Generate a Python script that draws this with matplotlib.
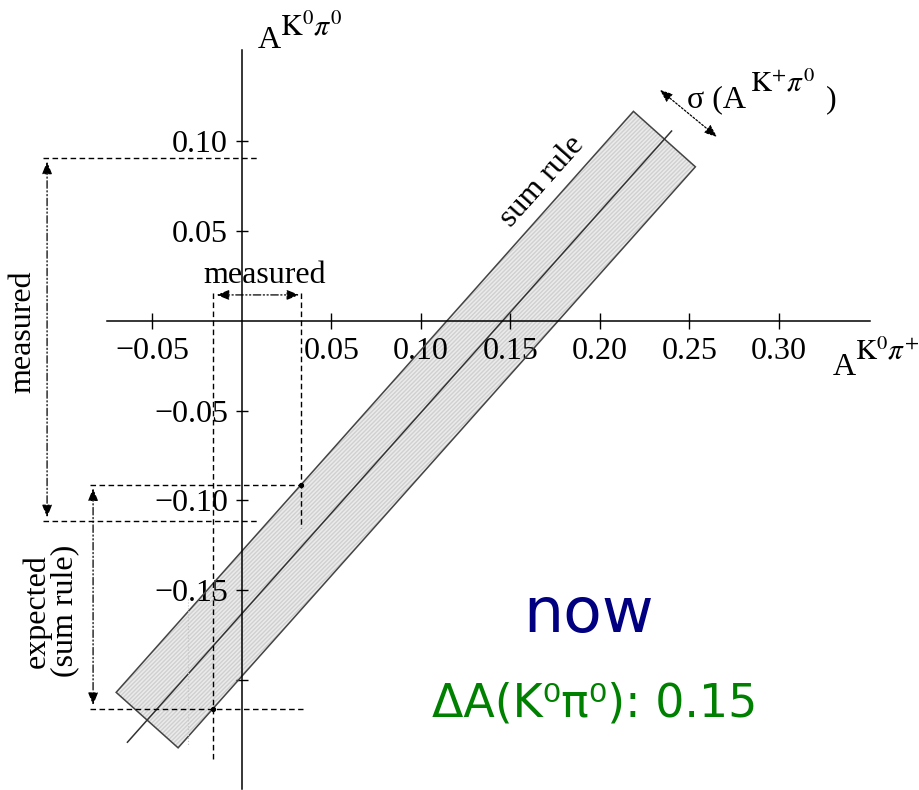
import numpy as np
import matplotlib
matplotlib.use("Agg")
import matplotlib.pyplot as plt
from matplotlib.patches import Polygon, FancyArrowPatch

plt.rcParams["font.family"] = ["Liberation Serif", "DejaVu Serif"]
plt.rcParams["mathtext.fontset"] = "stix"

# axis ticks
x_ticks = [-0.05, 0.05, 0.10, 0.15, 0.20, 0.25, 0.30]
x_tick_labels = ["\u22120.05", "0.05", "0.10", "0.15", "0.20", "0.25", "0.30"]
y_ticks = [-0.20, -0.15, -0.10, -0.05, 0.05, 0.10]
y_tick_labels = ["", "\u22120.15", "\u22120.10", "\u22120.05", "0.05", "0.10"]

# sum-rule band: A(K0pi0) = slope * A(K0pi+) + intercept, +- half width
sum_rule_slope = 1.12
sum_rule_intercept = -0.163
band_half_width = 0.0232
band_x_ends = [-0.053, 0.236]      # centre-line x at the two ends of the band
line_x_ends = [-0.064, 0.240]      # extent of the central line

# measured ranges
meas_k0pip = [-0.0162, 0.033]      # A(K0 pi+)
meas_k0pi0 = [-0.1114, 0.0908]     # A(K0 pi0)

now_label = "now"
delta_label = "\u0394A(K\u2070\u03c0\u2070): 0.15"

x_lim = (-0.1352, 0.3788)
y_lim = (-0.2613, 0.1788)

fig = plt.figure(figsize=(9.2, 7.9), dpi=100)
ax = fig.add_axes([0, 0, 1, 1])
ax.set_xlim(*x_lim)
ax.set_ylim(*y_lim)

# axes crossing at the origin
for side in ("top", "right"):
    ax.spines[side].set_visible(False)
ax.spines["left"].set_position(("data", 0))
ax.spines["bottom"].set_position(("data", 0))
ax.spines["bottom"].set_bounds(-0.0754, 0.351)
ax.spines["left"].set_bounds(-0.261, 0.151)
for s in ("left", "bottom"):
    ax.spines[s].set_linewidth(1.1)
    ax.spines[s].set_zorder(4)

ax.set_xticks(x_ticks, x_tick_labels)
ax.set_yticks(y_ticks, y_tick_labels)
ax.tick_params(axis="x", direction="inout", length=11, width=1.0, pad=6, labelsize=23)
ax.tick_params(axis="y", direction="inout", length=8, width=1.0, pad=6, labelsize=23)

# band geometry
d = np.array([1.0, sum_rule_slope]) / np.hypot(1.0, sum_rule_slope)
n = np.array([-d[1], d[0]])
c0 = np.array([band_x_ends[0], sum_rule_slope * band_x_ends[0] + sum_rule_intercept])
c1 = np.array([band_x_ends[1], sum_rule_slope * band_x_ends[1] + sum_rule_intercept])
corners = [c0 + n * band_half_width, c1 + n * band_half_width,
           c1 - n * band_half_width, c0 - n * band_half_width]
ax.add_patch(Polygon(corners, closed=True, facecolor="#ebebeb", edgecolor="none",
                     zorder=1))
ax.add_patch(Polygon(corners, closed=True, facecolor="none", edgecolor="#d0d0d0",
                     hatch="////////", linewidth=0, zorder=1.1))
ax.add_patch(Polygon(corners, closed=True, facecolor="none", edgecolor="#444444",
                     linewidth=1.1, zorder=3.5))
lx = np.array(line_x_ends)
ax.plot(lx, sum_rule_slope * lx + sum_rule_intercept, color="#333333", lw=1.1, zorder=3.5)

offset = band_half_width * np.hypot(1.0, sum_rule_slope)
upper_at = sum_rule_slope * meas_k0pip[1] + sum_rule_intercept + offset
lower_at = sum_rule_slope * meas_k0pip[0] + sum_rule_intercept - offset

dash = dict(color="black", lw=1.0, ls=(0, (4, 2.5)), zorder=5)
# measured A(K0pi0) limits
for yv in meas_k0pi0:
    ax.plot([-0.1112, 0.0089], [yv, yv], **dash)
# expected range from the sum rule
ax.plot([-0.0849, 0.0341], [upper_at, upper_at], **dash)
ax.plot([-0.0849, 0.0341], [lower_at, lower_at], **dash)
# measured A(K0pi+) limits
ax.plot([meas_k0pip[0]] * 2, [0.0156, -0.2446], **dash)
ax.plot([meas_k0pip[1]] * 2, [0.0156, -0.1153], **dash)
ax.plot([meas_k0pip[1], meas_k0pip[0]], [upper_at, lower_at], "o", color="black",
        ms=2.8, zorder=6)

# faint guide inside the band
ax.plot([-0.0302, -0.0302], [-0.155, -0.236], color="#c4c4c4", lw=0.8, ls=":", zorder=3.6)

def dd_arrow(p0, p1, ls=(0, (6, 2, 1, 2, 1, 2))):
    ax.add_patch(FancyArrowPatch(p0, p1, arrowstyle="<|-|>,head_length=5,head_width=2",
                                 mutation_scale=1.5, color="black", lw=0.9,
                                 linestyle=ls, shrinkA=0, shrinkB=0, zorder=6))

dd_arrow((-0.1089, meas_k0pi0[1] - 0.002), (-0.1089, meas_k0pi0[0] + 0.002))
dd_arrow((-0.0832, upper_at - 0.002), (-0.0832, lower_at + 0.002))
dd_arrow((meas_k0pip[0] + 0.002, 0.0145), (meas_k0pip[1] - 0.001, 0.0145))
dd_arrow((0.2335, 0.1287), (0.2654, 0.1025), ls=(0, (1.5, 1.5)))

fs = 23
# axis titles
ax.text(0.0089, 0.152, "A", fontsize=fs, ha="left", va="baseline")
ax.text(0.0212, 0.1593, r"$\mathrm{K}^{0}\pi^{0}$", fontsize=21.5, ha="left",
        va="baseline")
ax.text(0.330, -0.0301, "A", fontsize=fs, ha="left", va="baseline")
ax.text(0.3425, -0.0217, r"$\mathrm{K}^{0}\pi^{+}$", fontsize=21, ha="left",
        va="baseline")
# sigma label
ax.text(0.2486, 0.1192, "\u03c3 (A", fontsize=fs, ha="left", va="baseline")
ax.text(0.2838, 0.1276, r"$\mathrm{K}^{+}\pi^{0}$", fontsize=21, ha="left",
        va="baseline")
ax.text(0.3262, 0.1192, ")", fontsize=fs, ha="left", va="baseline")

ax.text(0.0128, 0.0212, "measured", fontsize=fs, ha="center", va="baseline")
ax.text(-0.1223, -0.0061, "measured", fontsize=fs, ha="center", va="center", rotation=90)
ax.text(-0.1067, -0.1616, "expected\n(sum rule)", fontsize=fs, ha="center", va="center",
        rotation=90, linespacing=0.95)
ax.text(0.168, 0.0774, "sum rule", fontsize=fs, ha="center", va="center",
        rotation=48.3, rotation_mode="anchor")

ax.text(0.1939, -0.1733, now_label, fontsize=45.5, color="#000080", ha="center",
        va="baseline", family="DejaVu Sans")
ax.text(0.1972, -0.2206, delta_label, fontsize=33, color="#008000", ha="center",
        va="baseline", family="DejaVu Sans")

fig.savefig("out.png", dpi=100)
